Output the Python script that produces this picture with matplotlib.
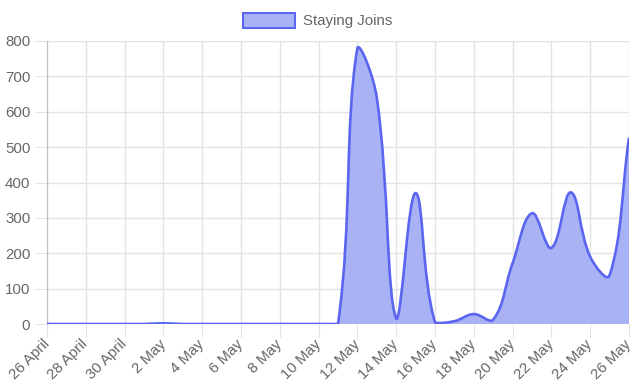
import matplotlib
matplotlib.use('Agg')
import matplotlib.pyplot as plt
import numpy as np
from matplotlib.path import Path
from matplotlib.patches import PathPatch, Rectangle

plt.rcParams['font.family'] = ['Liberation Sans', 'DejaVu Sans']

dates = ['26 April', '27 April', '28 April', '29 April', '30 April',
         '1 May', '2 May', '3 May', '4 May', '5 May', '6 May', '7 May',
         '8 May', '9 May', '10 May', '11 May', '12 May', '13 May', '14 May',
         '15 May', '16 May', '17 May', '18 May', '19 May', '20 May', '21 May',
         '22 May', '23 May', '24 May', '25 May', '26 May']
joins = [0, 0, 0, 0, 0, 0, 2, 0, 0, 0, 0, 0, 0, 0, 0, 0,
         780, 640, 15, 370, 5, 8, 28, 12, 172, 313, 215, 372, 190, 138, 527]
series_label = 'Staying Joins'

line_color = '#5a66f0'
fill_color = '#aab2f6'
grid_color = '#e3e3e3'
text_color = '#666666'
fs = 10.8

fig = plt.figure(figsize=(6.4, 3.84), dpi=100)
ax = fig.add_axes([47 / 640, 60 / 384, 582 / 640, 283 / 384])
n = len(joins)
ax.set_xlim(0, n - 1)
ax.set_ylim(0, 800)

# chart.js style bezier (tension 0.4), computed in pixel space
xs = np.arange(n, dtype=float)
ys = np.array(joins, dtype=float)
pix = ax.transData.transform(np.column_stack([xs, ys]))
inv = ax.transData.inverted()
t = 0.4
prev_cp, next_cp = [], []
for i in range(n):
    p0 = pix[i - 1] if i > 0 else pix[i]
    p1 = pix[i]
    p2 = pix[i + 1] if i < n - 1 else pix[i]
    d01 = np.hypot(*(p1 - p0))
    d12 = np.hypot(*(p2 - p1))
    tot = d01 + d12
    s01 = d01 / tot if tot else 0
    s12 = d12 / tot if tot else 0
    prev_cp.append(p1 - t * s01 * (p2 - p0))
    next_cp.append(p1 + t * s12 * (p2 - p0))

def to_data(p):
    d = inv.transform(p)
    return (min(max(d[0], 0), n - 1), min(max(d[1], 0), 800))

verts = [(xs[0], ys[0])]
codes = [Path.MOVETO]
for i in range(n - 1):
    verts += [to_data(next_cp[i]), to_data(prev_cp[i + 1]), (xs[i + 1], ys[i + 1])]
    codes += [Path.CURVE4] * 3

fill_verts = verts + [(n - 1, 0), (0, 0), (0, 0)]
fill_codes = codes + [Path.LINETO, Path.LINETO, Path.CLOSEPOLY]
ax.add_patch(PathPatch(Path(fill_verts, fill_codes), facecolor=fill_color,
                       edgecolor='none', zorder=2))
ax.add_patch(PathPatch(Path(verts, codes), facecolor='none',
                       edgecolor=line_color, linewidth=1.9, zorder=3))

ax.set_xticks(range(0, n, 2))
ax.set_xticklabels(dates[::2], rotation=45, ha='right', va='center',
                   rotation_mode='anchor')
ax.set_yticks(range(0, 801, 100))
ax.grid(True, color=grid_color, linewidth=1)
ax.set_axisbelow(True)
ax.tick_params(length=9, color=grid_color, labelcolor=text_color,
               labelsize=fs)
ax.tick_params(axis='y', pad=3)
ax.tick_params(axis='x', pad=4)
for s in ['top', 'right', 'bottom']:
    ax.spines[s].set_visible(False)
ax.spines['left'].set_color('#c0c0c0')

# legend
fig.add_artist(Rectangle((243 / 640, 1 - 28.3 / 384), 52 / 640, 15 / 384,
                         transform=fig.transFigure, facecolor=fill_color,
                         edgecolor=line_color, linewidth=1.5))
fig.text(303 / 640, 1 - 20.8 / 384, series_label, color=text_color,
         fontsize=fs, va='center', ha='left')

fig.savefig('out.png', dpi=100)
